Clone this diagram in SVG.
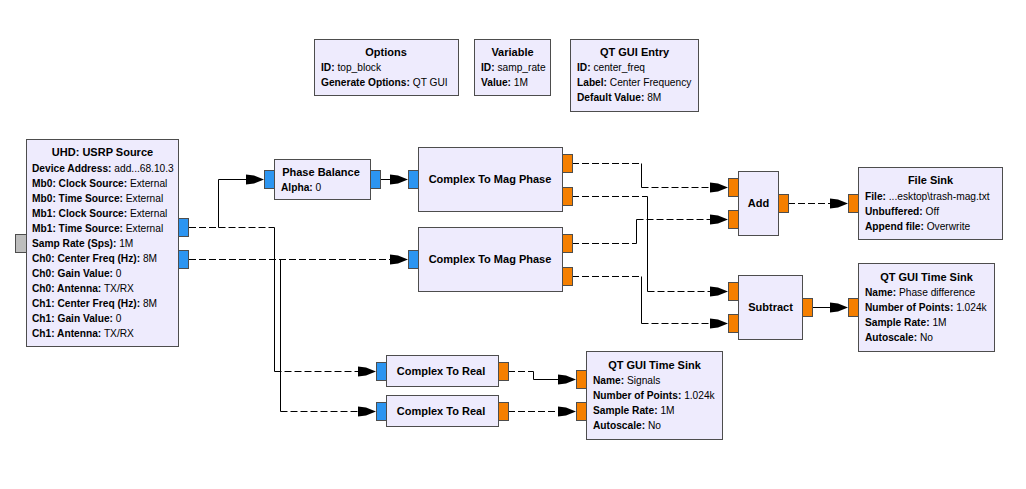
<svg xmlns="http://www.w3.org/2000/svg" xmlns:xlink="http://www.w3.org/1999/xlink" width="1026" height="489" viewBox="0 0 1026 489">
<style>
.box{fill:#EEEBFD;stroke:#4D4D4D;stroke-width:1}
.pc{fill:#2C95F1;stroke:#4D4D4D;stroke-width:1}
.pf{fill:#F57F00;stroke:#4D4D4D;stroke-width:1}
.pm{fill:#BDBDBD;stroke:#4D4D4D;stroke-width:1}
.t{font-family:"Liberation Sans",Arial,sans-serif;font-size:11px;font-weight:bold;text-anchor:middle;fill:#000}
.b{font-family:"Liberation Sans",Arial,sans-serif;font-size:10.2px;fill:#000}
.k{font-weight:bold}
.d{fill:none;stroke:#000;stroke-width:1;stroke-dasharray:7 3}
.s{fill:none;stroke:#000;stroke-width:1}
</style>
<defs>
<path id="ah" d="M0,0 L-10,-4 L-18,-5 L-18,5 L-10,4 Z" fill="#000"/>
</defs>
<rect x="0" y="0" width="1026" height="489" fill="#FFFFFF"/>

<g id="connectors">
<!-- USRP out1 -> Phase Balance -->
<path class="d" d="M189,227.5 H218.5"/>
<path class="s" d="M218.5,227.5 V179.5 H248"/>
<use xlink:href="#ah" x="264" y="179.5"/>
<!-- USRP out1 -> CTR1 -->
<path class="d" d="M218.5,227.5 H274.5"/>
<path class="s" d="M274.5,227.5 V371.5"/>
<path class="d" d="M274.5,371.5 H360"/>
<use xlink:href="#ah" x="376" y="371.5"/>
<!-- USRP out2 -> CTMP2 -->
<path class="d" d="M189,259.5 H392"/>
<use xlink:href="#ah" x="408" y="259.5"/>
<!-- USRP out2 -> CTR2 -->
<path class="s" d="M280.5,259.5 V411.5"/>
<path class="d" d="M280.5,411.5 H360"/>
<use xlink:href="#ah" x="376" y="411.5"/>
<!-- PB -> CTMP1 -->
<path class="s" d="M380,179.5 H392"/>
<use xlink:href="#ah" x="408" y="179.5"/>
<!-- CTMP1 out1 -> Add in1 -->
<path class="d" d="M572,163.5 H641.5"/>
<path class="s" d="M641.5,163.5 V187.5"/>
<path class="d" d="M641.5,187.5 H712"/>
<use xlink:href="#ah" x="728" y="187.5"/>
<!-- CTMP1 out2 -> Sub in1 -->
<path class="d" d="M572,196.5 H647.5"/>
<path class="s" d="M647.5,196.5 V291.5"/>
<path class="d" d="M647.5,291.5 H712"/>
<use xlink:href="#ah" x="728" y="291.5"/>
<!-- CTMP2 out1 -> Add in2 -->
<path class="d" d="M572,243.5 H636.5"/>
<path class="s" d="M636.5,243.5 V219.5"/>
<path class="d" d="M636.5,219.5 H712"/>
<use xlink:href="#ah" x="728" y="219.5"/>
<!-- CTMP2 out2 -> Sub in2 -->
<path class="d" d="M572,276.5 H641.5"/>
<path class="s" d="M641.5,276.5 V323.5"/>
<path class="d" d="M641.5,323.5 H712"/>
<use xlink:href="#ah" x="728" y="323.5"/>
<!-- Add -> File Sink -->
<path class="d" d="M788,203.5 H832"/>
<use xlink:href="#ah" x="848" y="203.5"/>
<!-- Sub -> QT Time Sink -->
<path class="s" d="M812,307.5 H832"/>
<use xlink:href="#ah" x="848" y="307.5"/>
<!-- CTR1 -> Signals sink in1 -->
<path class="d" d="M508,371.5 H533.5"/>
<path class="s" d="M533.5,371.5 V379.5 H560"/>
<use xlink:href="#ah" x="576" y="379.5"/>
<!-- CTR2 -> Signals sink in2 -->
<path class="d" d="M508,411.5 H560"/>
<use xlink:href="#ah" x="576" y="411.5"/>
</g>

<g id="options">
<rect class="box" x="314.5" y="39.5" width="144" height="56"/>
<text class="t" x="386" y="55.5">Options</text>
<text class="b" x="321" y="71"><tspan class="k">ID:</tspan> top_block</text>
<text class="b" x="321" y="86"><tspan class="k">Generate Options:</tspan> QT GUI</text>
</g>

<g id="variable">
<rect class="box" x="474.5" y="39.5" width="76" height="56"/>
<text class="t" x="512.5" y="55.5">Variable</text>
<text class="b" x="481" y="71"><tspan class="k">ID:</tspan> samp_rate</text>
<text class="b" x="481" y="86"><tspan class="k">Value:</tspan> 1M</text>
</g>

<g id="qtgui_entry">
<rect class="box" x="570.5" y="39.5" width="128" height="72"/>
<text class="t" x="634.5" y="55.5">QT GUI Entry</text>
<text class="b" x="577" y="71"><tspan class="k">ID:</tspan> center_freq</text>
<text class="b" x="577" y="86"><tspan class="k">Label:</tspan> Center Frequency</text>
<text class="b" x="577" y="101"><tspan class="k">Default Value:</tspan> 8M</text>
</g>

<g id="usrp_source">
<rect class="box" x="26.5" y="139.5" width="152" height="207"/>
<rect class="pm" x="15.5" y="234.5" width="11" height="18"/>
<rect class="pc" x="178.5" y="218.5" width="10" height="18"/>
<rect class="pc" x="178.5" y="250.5" width="10" height="18"/>
<text class="t" x="102.5" y="156">UHD: USRP Source</text>
<text class="b" x="32" y="171.5"><tspan class="k">Device Address:</tspan> add...68.10.3</text>
<text class="b" x="32" y="186.5"><tspan class="k">Mb0: Clock Source:</tspan> External</text>
<text class="b" x="32" y="201.5"><tspan class="k">Mb0: Time Source:</tspan> External</text>
<text class="b" x="32" y="216.5"><tspan class="k">Mb1: Clock Source:</tspan> External</text>
<text class="b" x="32" y="231.5"><tspan class="k">Mb1: Time Source:</tspan> External</text>
<text class="b" x="32" y="246.5"><tspan class="k">Samp Rate (Sps):</tspan> 1M</text>
<text class="b" x="32" y="261.5"><tspan class="k">Ch0: Center Freq (Hz):</tspan> 8M</text>
<text class="b" x="32" y="276.5"><tspan class="k">Ch0: Gain Value:</tspan> 0</text>
<text class="b" x="32" y="291.5"><tspan class="k">Ch0: Antenna:</tspan> TX/RX</text>
<text class="b" x="32" y="306.5"><tspan class="k">Ch1: Center Freq (Hz):</tspan> 8M</text>
<text class="b" x="32" y="321.5"><tspan class="k">Ch1: Gain Value:</tspan> 0</text>
<text class="b" x="32" y="336.5"><tspan class="k">Ch1: Antenna:</tspan> TX/RX</text>
</g>

<g id="phase_balance">
<rect class="box" x="274.5" y="159.5" width="96" height="40"/>
<rect class="pc" x="264.5" y="170.5" width="10" height="18"/>
<rect class="pc" x="370.5" y="170.5" width="10" height="18"/>
<text class="t" x="321" y="176">Phase Balance</text>
<text class="b" x="281" y="190.5"><tspan class="k">Alpha:</tspan> 0</text>
</g>

<g id="ctmp1">
<rect class="box" x="418.5" y="147.5" width="144" height="64"/>
<rect class="pc" x="408.5" y="170.5" width="10" height="18"/>
<rect class="pf" x="562.5" y="154.5" width="10" height="18"/>
<rect class="pf" x="562.5" y="187.5" width="10" height="18"/>
<text class="t" x="490" y="183">Complex To Mag Phase</text>
</g>

<g id="ctmp2">
<rect class="box" x="418.5" y="227.5" width="144" height="64"/>
<rect class="pc" x="408.5" y="250.5" width="10" height="18"/>
<rect class="pf" x="562.5" y="234.5" width="10" height="18"/>
<rect class="pf" x="562.5" y="267.5" width="10" height="18"/>
<text class="t" x="490" y="263">Complex To Mag Phase</text>
</g>

<g id="add">
<rect class="box" x="738.5" y="171.5" width="40" height="64"/>
<rect class="pf" x="728.5" y="178.5" width="10" height="18"/>
<rect class="pf" x="728.5" y="210.5" width="10" height="18"/>
<rect class="pf" x="778.5" y="194.5" width="10" height="18"/>
<text class="t" x="758.5" y="207">Add</text>
</g>

<g id="subtract">
<rect class="box" x="738.5" y="275.5" width="64" height="64"/>
<rect class="pf" x="728.5" y="282.5" width="10" height="18"/>
<rect class="pf" x="728.5" y="314.5" width="10" height="18"/>
<rect class="pf" x="802.5" y="298.5" width="10" height="18"/>
<text class="t" x="770.5" y="311">Subtract</text>
</g>

<g id="file_sink">
<rect class="box" x="858.5" y="167.5" width="144" height="72"/>
<rect class="pf" x="848.5" y="194.5" width="10" height="18"/>
<text class="t" x="930.5" y="184">File Sink</text>
<text class="b" x="865" y="199.5"><tspan class="k">File:</tspan> ...esktop\trash-mag.txt</text>
<text class="b" x="865" y="214.5"><tspan class="k">Unbuffered:</tspan> Off</text>
<text class="b" x="865" y="229.5"><tspan class="k">Append file:</tspan> Overwrite</text>
</g>

<g id="time_sink_phase">
<rect class="box" x="858.5" y="263.5" width="136" height="88"/>
<rect class="pf" x="848.5" y="298.5" width="10" height="18"/>
<text class="t" x="926.5" y="280.5">QT GUI Time Sink</text>
<text class="b" x="865" y="296"><tspan class="k">Name:</tspan> Phase difference</text>
<text class="b" x="865" y="311"><tspan class="k">Number of Points:</tspan> 1.024k</text>
<text class="b" x="865" y="326"><tspan class="k">Sample Rate:</tspan> 1M</text>
<text class="b" x="865" y="341"><tspan class="k">Autoscale:</tspan> No</text>
</g>

<g id="ctr1">
<rect class="box" x="386.5" y="355.5" width="112" height="31"/>
<rect class="pc" x="376.5" y="362.5" width="10" height="18"/>
<rect class="pf" x="498.5" y="362.5" width="10" height="18"/>
<text class="t" x="441" y="375">Complex To Real</text>
</g>

<g id="ctr2">
<rect class="box" x="386.5" y="395.5" width="112" height="31"/>
<rect class="pc" x="376.5" y="402.5" width="10" height="18"/>
<rect class="pf" x="498.5" y="402.5" width="10" height="18"/>
<text class="t" x="441" y="415">Complex To Real</text>
</g>

<g id="time_sink_signals">
<rect class="box" x="586.5" y="351.5" width="136" height="88"/>
<rect class="pf" x="576.5" y="370.5" width="10" height="18"/>
<rect class="pf" x="576.5" y="402.5" width="10" height="18"/>
<text class="t" x="654.5" y="368.5">QT GUI Time Sink</text>
<text class="b" x="593" y="383.5"><tspan class="k">Name:</tspan> Signals</text>
<text class="b" x="593" y="398.5"><tspan class="k">Number of Points:</tspan> 1.024k</text>
<text class="b" x="593" y="413.5"><tspan class="k">Sample Rate:</tspan> 1M</text>
<text class="b" x="593" y="428.5"><tspan class="k">Autoscale:</tspan> No</text>
</g>
</svg>
